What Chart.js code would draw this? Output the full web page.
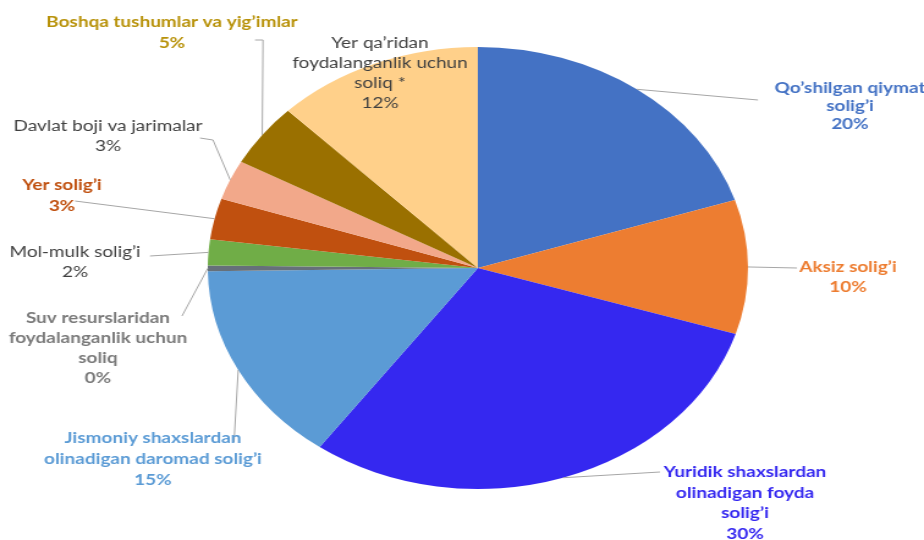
<!DOCTYPE html>
<html>
<head>
<meta charset="utf-8">
<script src="https://cdn.jsdelivr.net/npm/chart.js@4.4.1/dist/chart.umd.min.js"></script>
<style>
  html, body { margin: 0; padding: 0; background: #fff; overflow: hidden; }
  #wrap { width: 924px; height: 540px; position: relative; }
  /* the reference pie is an ellipse, so the canvas is stretched sideways */
  #taxChart { position: absolute; left: 0; top: 0; transform: scaleX(1.2222); transform-origin: 0 0; }
</style>
</head>
<body>
<div id="wrap"><canvas id="taxChart" width="756" height="540"></canvas></div>
<script>
// Chart data (shares of budget revenue, %)
const categories = [
    ["Qo\u2019shilgan qiymat", "solig\u2019i"],
    ["Aksiz solig\u2019i"],
    ["Yuridik shaxslardan", "olinadigan foyda", "solig\u2019i"],
    ["Jismoniy shaxslardan", "olinadigan daromad solig\u2019i"],
    ["Suv resurslaridan", "foydalanganlik uchun", "soliq"],
    ["Mol-mulk solig\u2019i"],
    ["Yer solig\u2019i"],
    ["Davlat boji va jarimalar"],
    ["Boshqa tushumlar va yig\u2019imlar"],
    ["Yer qa\u2019ridan", "foydalanganlik uchun", "soliq *"]
];
const shares = [20.0, 9.8, 30.1, 14.8, 0.4, 1.9, 3.0, 2.9, 4.6, 12.4];
const sliceColors = ['#4472C4', '#ED7D31', '#3528F0', '#5B9BD5', '#66707A',
                     '#70AD47', '#C0500F', '#F2A88A', '#9A7000', '#FFD08A'];

const SX = 1.2222; // horizontal stretch of the canvas

// label layout, in page pixels (x gets divided by SX)
const labelStyle = [
    { x: 850, y: 88,  lh: 18, color: '#4472C4', bold: true,  path: [[758, 100]] },
    { x: 848, y: 267, lh: 20, color: '#ED7D31', bold: true,  path: [[797, 268]] },
    { x: 745, y: 472, lh: 20.5, color: '#3528F0', bold: true, path: [[660, 472]] },
    { x: 153, y: 438, lh: 21, color: '#5B9BD5', bold: true,  path: [[234, 442]] },
    { x: 98,  y: 318, lh: 20, color: '#7a7a7a', bold: true,  path: [[182, 316]] },
    { x: 75,  y: 252, lh: 20, color: '#404040', bold: false, path: [[150, 256]] },
    { x: 62,  y: 185, lh: 21, color: '#C0500F', bold: true,  path: [[75, 201]] },
    { x: 108, y: 126, lh: 20, color: '#404040', bold: false, path: [[213, 140], [200, 138]] },
    { x: 172, y: 22,  lh: 21, color: '#B8920A', bold: true,  path: [[263, 40], [255, 40]] },
    { x: 380, y: 43,  lh: 20, color: '#404040', bold: false, path: null }
];

const pieLabels = {
    id: 'pieLabels',
    afterDatasetsDraw(chart) {
        const ctx = chart.ctx;
        const meta = chart.getDatasetMeta(0);
        const vals = chart.data.datasets[0].data;
        const total = vals.reduce((a, b) => a + b, 0);
        ctx.save();
        meta.data.forEach((arc, i) => {
            const st = labelStyle[i];
            // leader line from slice edge (mid angle) to the label
            if (st.path) {
                const mid = (arc.startAngle + arc.endAngle) / 2;
                ctx.beginPath();
                ctx.moveTo(arc.x + arc.outerRadius * Math.cos(mid), arc.y + arc.outerRadius * Math.sin(mid));
                st.path.forEach(p => ctx.lineTo(p[0] / SX, p[1]));
                ctx.strokeStyle = '#a6a6a6';
                ctx.lineWidth = 1;
                ctx.stroke();
            }
            const lines = chart.data.labels[i].concat([Math.round(vals[i] / total * 100) + '%']);
            ctx.font = (st.bold ? 'bold ' : '') + '15.5px Lato, "Open Sans", sans-serif';
            ctx.fillStyle = st.color;
            ctx.textAlign = 'center';
            ctx.textBaseline = 'middle';
            lines.forEach((t, k) => ctx.fillText(t, st.x / SX, st.y + k * st.lh));
        });
        ctx.restore();
    }
};

const chart = new Chart(document.getElementById('taxChart'), {
    type: 'pie',
    data: {
        labels: categories,
        datasets: [{
            data: shares,
            backgroundColor: sliceColors,
            borderWidth: 0
        }]
    },
    options: {
        responsive: false,
        animation: false,
        // pie centre at (478/SX, 268), radius 221
        layout: { padding: { top: 47, bottom: 51, left: 170, right: 144 } },
        plugins: {
            legend: { display: false },
            tooltip: { enabled: false }
        }
    },
    plugins: [pieLabels]
});
</script>
</body>
</html>
